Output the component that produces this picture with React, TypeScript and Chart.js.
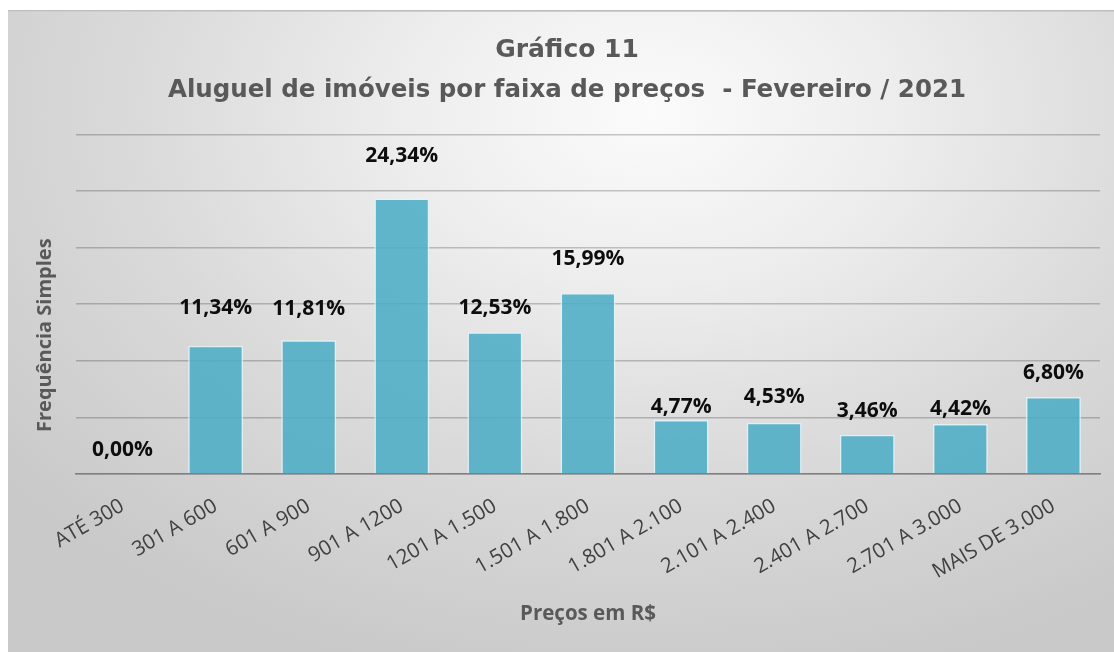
import React, { useEffect, useRef } from "react";
import { Chart, registerables } from "chart.js";

Chart.register(...registerables);

const categories = [
  "ATÉ 300",
  "301 A 600",
  "601 A 900",
  "901 A 1200",
  "1201 A 1.500",
  "1.501 A 1.800",
  "1.801 A 2.100",
  "2.101 A 2.400",
  "2.401 A 2.700",
  "2.701 A 3.000",
  "MAIS DE 3.000",
];
const percentages = [0.0, 11.34, 11.81, 24.34, 12.53, 15.99, 4.77, 4.53, 3.46, 4.42, 6.8];
const yMin = 0;
const yMax = 30;
const yStep = 5;

const titleText = "Gráfico 11";
const subtitleText = "Aluguel de imóveis por faixa de preços  - Fevereiro / 2021";
const yTitleText = "Frequência Simples";
const xTitleText = "Preços em R$";

// label lift above each bar top (manual placement in the original)
const labelLift = [24, 38, 31, 42, 24, 34, 13, 26, 24, 15, 24];

const fmt = (v: number) => v.toFixed(2).replace(".", ",") + "%";

const dataLabelPlugin = {
  id: "dataLabels",
  afterDatasetsDraw(chart: any) {
    const ctx = chart.ctx;
    const meta = chart.getDatasetMeta(0);
    ctx.save();
    ctx.font = "bold 21px 'Open Sans'";
    ctx.fillStyle = "#0d0d0d";
    ctx.textAlign = "center";
    ctx.textBaseline = "middle";
    meta.data.forEach((bar: any, i: number) => {
      ctx.fillText(fmt(percentages[i]), bar.x, bar.y - labelLift[i]);
    });
    ctx.restore();
  },
};

const yTitlePlugin = {
  id: "yTitle",
  afterDraw(chart: any) {
    const ctx = chart.ctx;
    const a = chart.chartArea;
    ctx.save();
    ctx.translate(a.left - 31, (a.top + a.bottom) / 2 + 31);
    ctx.rotate(-Math.PI / 2);
    ctx.font = "bold 20px 'Open Sans'";
    ctx.fillStyle = "#595959";
    ctx.textAlign = "center";
    ctx.textBaseline = "middle";
    ctx.fillText(yTitleText, 0, 0);
    ctx.restore();
  },
};

export default function App() {
  const ref = useRef<HTMLCanvasElement | null>(null);

  useEffect(() => {
    if (!ref.current) return;
    const chart = new Chart(ref.current, {
      type: "bar",
      data: {
        labels: categories,
        datasets: [
          {
            data: percentages,
            backgroundColor: "rgba(75,172,198,0.86)",
            borderColor: "rgba(225,245,250,0.85)",
            borderWidth: 1.5,
            barPercentage: 0.59,
            categoryPercentage: 1.0,
          },
        ],
      },
      options: {
        animation: false,
        responsive: true,
        maintainAspectRatio: false,
        layout: { padding: { left: 26, right: 14, top: 0, bottom: 0 } },
        plugins: {
          legend: { display: false },
          tooltip: { enabled: false },
          title: {
            display: true,
            text: titleText,
            color: "#595959",
            font: { family: "'DejaVu Sans'", weight: "bold", size: 25 },
            padding: { top: 25, bottom: 0 },
          },
          subtitle: {
            display: true,
            text: subtitleText,
            color: "#595959",
            font: { family: "'DejaVu Sans'", weight: "bold", size: 24.5 },
            padding: { top: 11, bottom: 29 },
          },
        },
        scales: {
          x: {
            grid: { display: false },
            border: { display: true, color: "#7f7f7f", width: 1.5 },
            ticks: {
              autoSkip: false,
              minRotation: 30,
              maxRotation: 30,
              color: "#404040",
              padding: 12,
              font: { family: "'Open Sans'", size: 20.5 },
            },
            title: {
              display: true,
              text: xTitleText,
              color: "#595959",
              font: { family: "'Open Sans'", weight: "bold", size: 20.5 },
              padding: { top: 4, bottom: 26 },
            },
            afterFit: (s: any) => {
              s.height = 178;
            },
          },
          y: {
            min: yMin,
            max: yMax,
            ticks: { display: false, stepSize: yStep },
            grid: { color: "rgba(0,0,0,0.21)", lineWidth: 1.5, drawTicks: false },
            border: { display: false },
            afterFit: (s: any) => {
              s.width = 42;
            },
          },
        },
      },
      plugins: [dataLabelPlugin, yTitlePlugin],
    });
    return () => chart.destroy();
  }, []);

  return (
    <div
      style={{
        position: "absolute",
        left: 8,
        top: 10,
        width: 1106,
        height: 642,
        background:
          "radial-gradient(ellipse 75% 90% at 58% 16%, #fbfbfb 0%, #ededed 30%, #dadada 62%, #c9c9c9 100%)",
        boxShadow: "inset 0 1px 0 #bdbdbd, inset 0 2px 0 #cfcfcf",
      }}
    >
      <canvas ref={ref} style={{ display: "block" }} />
    </div>
  );
}
